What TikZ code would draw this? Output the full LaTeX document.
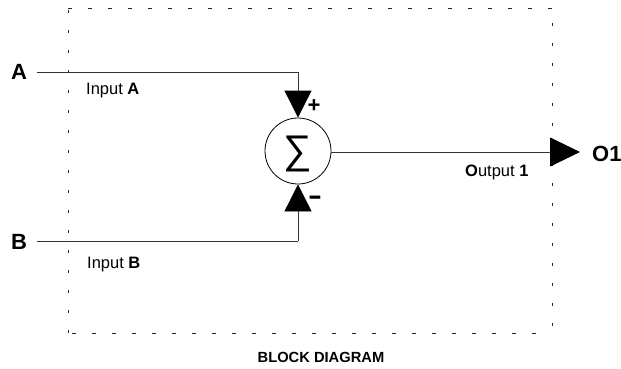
\documentclass[tikz,border=0pt]{standalone}
\usepackage{fontspec}
\setmainfont{Liberation Sans}
\usetikzlibrary{arrows.meta,calc}
\tikzset{
  wire/.style={draw=black!80, line width=0.8pt},
  big/.style={font=\fontsize{22}{24}\selectfont\bfseries, inner sep=0pt},
  lbl/.style={font=\fontsize{16.5}{18}\selectfont, inner sep=0pt, anchor=west},
  frame/.style={draw=black!85, line width=0.9pt},
  tipA/.style={-{Triangle[length=27pt,width=27pt,color=black]}},
}
\begin{document}
\begin{tikzpicture}[x=1pt,y=-1pt]
\useasboundingbox (0,0) rectangle (621,369);
% dashed frame
\draw[frame, dash pattern=on 4pt off 16pt] (68,8) -- (556,8);
\draw[frame, dash pattern=on 4pt off 16pt] (72,333) -- (552,333);
\draw[frame, dash pattern=on 3pt off 17pt] (68,10) -- (68,336);
\draw[frame, dash pattern=on 3pt off 17pt] (552,23) -- (552,330);
% nodes
\node[big] (A) at (19,72) {A};
\node[big] (B) at (19,242) {B};
\node[draw=black, line width=0.8pt, circle, minimum size=66pt, inner sep=0pt] (s) at (298,151) {};
\node[font=\fontsize{40}{42}\selectfont, inner sep=0pt] (sig) at (298,154) {∑};
\node[big, anchor=west] (O) at (592,154) {O1};
\coordinate (a1) at (298,72);
\coordinate (b1) at (298,241);
\coordinate (o1) at (580,152);
% connectors
\draw[wire] ([xshift=10pt]A.east) -- (a1);
\draw[wire, tipA] (a1) -- (s.north);
\draw[wire] ([xshift=10pt]B.east |- b1) -- (b1);
\draw[wire, tipA] (b1) -- (s.south);
\draw[wire, -{Triangle[length=30pt,width=29pt,color=black]}] (s.east |- o1) -- (o1);
% labels
\node[lbl] (la) at (86,91) {Input \textbf{A}};
\node[lbl] (lb) at (87,265) {Input \textbf{B}};
\node[lbl] (lo) at (465,172) {\textbf{O}utput \textbf{1}};
\node[big] (plus) at (314,106) {+};
\node[big] (minus) at (315,200) {\scalebox{1.9}[1.2]{-}};
\node[font=\fontsize{14.7}{16}\selectfont\bfseries, inner sep=0pt] (t) at (321,357) {BLOCK DIAGRAM};
\end{tikzpicture}
\end{document}
